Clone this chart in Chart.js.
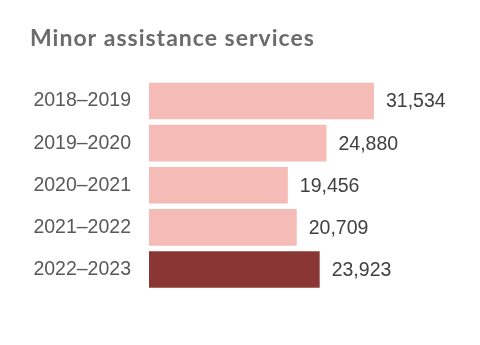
<!DOCTYPE html>
<html>
<head>
<meta charset="utf-8">
<script src="https://cdn.jsdelivr.net/npm/chart.js@4.4.0/dist/chart.umd.min.js"></script>
<style>
  html, body { margin: 0; padding: 0; background: #ffffff; }
  #wrap { position: relative; width: 480px; height: 345px; }
</style>
</head>
<body>
<div id="wrap"><canvas id="c" width="480" height="345"></canvas></div>
<script>
const title = "Minor assistance services";
const categories = ["2018–2019", "2019–2020", "2020–2021", "2021–2022", "2022–2023"];
const values = [31534, 24880, 19456, 20709, 23923];
const barColors = ["#F5BBB6", "#F5BBB6", "#F5BBB6", "#F5BBB6", "#8A3634"];

const titlePlugin = {
  id: 'titleText',
  afterDraw(chart) {
    const ctx = chart.ctx;
    ctx.save();
    ctx.font = "bold 23px Lato";
    if ('letterSpacing' in ctx) ctx.letterSpacing = "1px";
    ctx.fillStyle = "#6B6B6B";
    ctx.textBaseline = "alphabetic";
    ctx.textAlign = "left";
    ctx.fillText(title, 30, 46);
    ctx.restore();
  }
};

const valueLabels = {
  id: 'valueLabels',
  afterDatasetsDraw(chart) {
    const ctx = chart.ctx;
    const meta = chart.getDatasetMeta(0);
    ctx.save();
    ctx.font = "19.5px 'Liberation Sans', Arial, sans-serif";
    ctx.fillStyle = "#404040";
    ctx.textBaseline = "middle";
    ctx.textAlign = "left";
    meta.data.forEach((bar, i) => {
      ctx.fillText(values[i].toLocaleString('en-US'), bar.x + 12, bar.y + 1);
    });
    ctx.restore();
  }
};

new Chart(document.getElementById('c'), {
  type: 'bar',
  data: {
    labels: categories,
    datasets: [{
      data: values,
      backgroundColor: barColors,
      borderWidth: 0,
      barPercentage: 0.87,
      categoryPercentage: 1
    }]
  },
  options: {
    indexAxis: 'y',
    responsive: false,
    animation: false,
    devicePixelRatio: 1,
    layout: { padding: { top: 80, bottom: 54.5, left: 0, right: 81.3 } },
    plugins: { legend: { display: false }, title: { display: false }, tooltip: { enabled: false } },
    scales: {
      x: { display: false, min: 0, max: 35000 },
      y: {
        border: { display: false },
        grid: { display: false, drawTicks: false },
        afterFit(scale) { scale.width = 149; },
        ticks: {
          padding: 18,
          color: "#595959",
          font: { family: "'Liberation Sans', Arial, sans-serif", size: 19.5 }
        }
      }
    }
  },
  plugins: [titlePlugin, valueLabels]
});
</script>
</body>
</html>
